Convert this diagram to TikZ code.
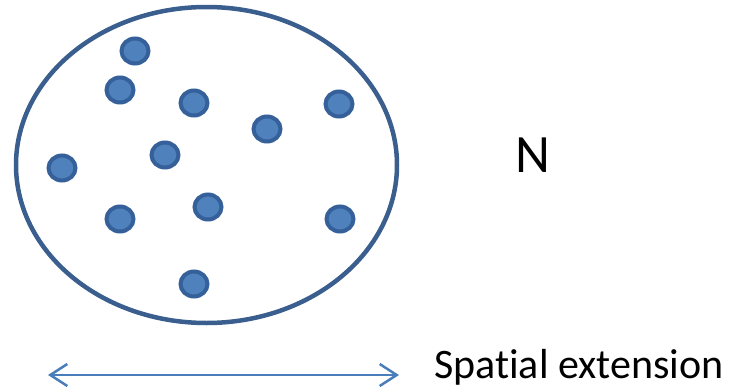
\documentclass[tikz,border=0pt]{standalone}
\usepackage{fontspec}
\setmainfont[Ligatures=NoCommon]{Carlito}
\usetikzlibrary{arrows.meta,shapes.geometric}
\definecolor{dotfill}{HTML}{4F81BD}
\definecolor{dotline}{HTML}{35609A}
\definecolor{ringline}{HTML}{3A5E8E}
\definecolor{arrowcol}{HTML}{4A7EBB}
\tikzset{
  dot/.style={ellipse, draw=dotline, fill=dotfill, line width=4pt, minimum width=27pt, minimum height=25pt, inner sep=0pt, outer sep=0pt},
  ring/.style={draw=ringline, line width=4.5pt},
  lbl/.style={inner sep=0pt, anchor=base west, text=black}
}
\begin{document}
\begin{tikzpicture}[x=1pt,y=-1pt]
\useasboundingbox (0,0) rectangle (732,391);
\coordinate (rc) at (206.5,165);
\draw[ring] (rc) ellipse [x radius=190.5, y radius=158];
\foreach \n/\x/\y in {d1/135/51, d2/120/90, d3/194/103, d4/339/104, d5/267/129, d6/165/155, d7/62/168, d8/208/207, d9/120/219, d10/340/219, d11/194/284}
  \node[dot] (\n) at (\x,\y) {};
\node[lbl, font=\fontsize{54}{64}\selectfont] (N) at (515,172) {N};
\coordinate (aL) at (48,375);
\coordinate (aR) at (399,375);
\draw[arrowcol, line width=2.5pt, {Straight Barb[length=17pt,width=22pt,line width=2.5pt]}-{Straight Barb[length=17pt,width=22pt,line width=2.5pt]}] (aL) -- (aR);
\node[lbl, font=\fontsize{42}{50}\selectfont] (ext) at (434,378) {Spatial extension};
\end{tikzpicture}
\end{document}
